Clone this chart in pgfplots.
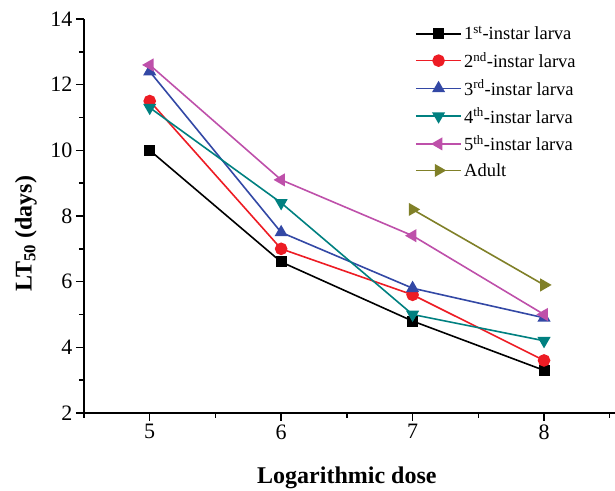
\documentclass[border=0pt]{standalone}
\usepackage{pgfplots}
\pgfplotsset{compat=1.18}
\usepackage{fontspec}
\setmainfont{Liberation Serif}
\definecolor{cred}{RGB}{237,28,36}
\definecolor{cblue}{RGB}{51,72,165}
\definecolor{cteal}{RGB}{0,128,128}
\definecolor{cmag}{RGB}{190,80,170}
\definecolor{colive}{RGB}{128,128,40}
\begin{document}
\begin{tikzpicture}
\begin{axis}[
  name=ax,
  scale only axis,
  width=531pt, height=394pt,
  xmin=4.5, xmax=8.54,
  ymin=2, ymax=14,
  xtick={5,6,7,8},
  minor xtick={4.5,5.5,6.5,7.5,8.5},
  ytick={2,4,...,14},
  minor ytick={3,5,...,13},
  axis x line*=bottom,
  axis y line*=left,
  tick align=outside,
  major tick length=8pt,
  minor tick length=5pt,
  every tick/.style={black, line width=1.4pt},
  axis line style={line width=1.6pt},
  /pgf/number format/assume math mode=true,
  tick label style={font=\fontsize{22}{26}\selectfont},
  xlabel={\textbf{Logarithmic dose}},
  ylabel={\textbf{LT\textsubscript{50} (days)}},
  label style={font=\fontsize{24}{28}\selectfont},
  xlabel style={at={([yshift=-71pt]axis description cs:0.495,0)}, anchor=base},
  ylabel style={at={([xshift=-58pt]axis description cs:0,0.455)}, anchor=center},
  legend style={at={([yshift=-5pt]axis description cs:0.623,1.0)}, anchor=north west, draw=none, fill=none,
    font=\fontsize{18.5}{22}\selectfont, row sep=7pt, inner sep=0pt,
    nodes={inner xsep=2pt}},
  legend cell align=left,
  legend image code/.code={\draw[mark repeat=2,mark phase=2] plot coordinates {(0cm,0cm) (0.8cm,0cm) (1.6cm,0cm)};},
  clip=false,
]
\addplot[black, line width=1.6pt, mark=square*, mark size=4.7pt] coordinates {(5,10) (6,6.6) (7,4.8) (8,3.3)};
\addlegendentry{1\textsuperscript{st}-instar larva}
\addplot[cred, line width=1.6pt, mark=*, mark size=5.5pt] coordinates {(5,11.5) (6,7.0) (7,5.6) (8,3.6)};
\addlegendentry{2\textsuperscript{nd}-instar larva}
\addplot[cblue, line width=1.6pt, mark=triangle*, mark size=6pt] coordinates {(5,12.4) (6,7.5) (7,5.8) (8,4.9)};
\addlegendentry{3\textsuperscript{rd}-instar larva}
\addplot[cteal, line width=1.6pt, mark=triangle*, mark size=6pt, mark options={rotate=180}] coordinates {(5,11.3) (6,8.4) (7,5.0) (8,4.2)};
\addlegendentry{4\textsuperscript{th}-instar larva}
\addplot[cmag, line width=1.6pt, mark=triangle*, mark size=6pt, mark options={rotate=90}] coordinates {(5,12.6) (6,9.1) (7,7.4) (8,5.0)};
\addlegendentry{5\textsuperscript{th}-instar larva}
\addplot[colive, line width=1.6pt, mark=triangle*, mark size=6pt, mark options={rotate=-90}] coordinates {(7,8.2) (8,5.9)};
\addlegendentry{Adult}
\end{axis}
\pgfresetboundingbox
\path[use as bounding box] ([shift={(-84pt,-78pt)}]ax.south west) rectangle ([shift={(0pt,19pt)}]ax.north east);
\end{tikzpicture}
\end{document}
